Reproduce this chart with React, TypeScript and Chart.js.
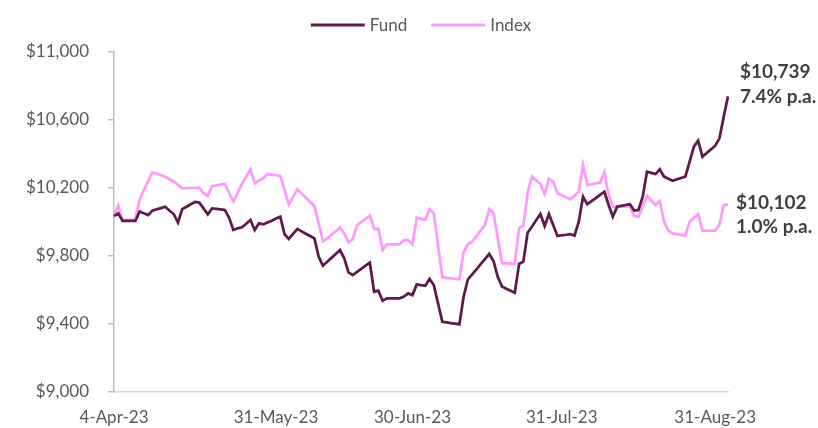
import React, { useEffect, useRef } from "react";
import { Chart, registerables } from "chart.js";

Chart.register(...registerables);

const seriesNames = ["Fund", "Index"];

const fundValues = [
  10035, 10051, 10006, 10006, 10006, 10006, 10061, 10051, 10041, 10067,
  10075, 10082, 10090, 10068, 10047, 9996, 10076, 10090, 10104, 10118,
  10114, 10080, 10045, 10080, 10077, 10074, 10071, 10025, 9953, 9963,
  9969, 9990, 10012, 9953, 9992, 9986, 9997, 10008, 10020, 10031,
  9928, 9900, 9930, 9959, 9945, 9931, 9918, 9904, 9796, 9743,
  9766, 9789, 9812, 9835, 9786, 9704, 9688, 9706, 9724, 9743,
  9761, 9590, 9596, 9537, 9551, 9551, 9551, 9551, 9561, 9580,
  9570, 9633, 9629, 9625, 9665, 9629, 9521, 9413, 9409, 9405,
  9402, 9398, 9561, 9663, 9692, 9722, 9752, 9782, 9812, 9771,
  9678, 9620, 9608, 9596, 9584, 9753, 9767, 9937, 9972, 10010,
  10047, 9976, 10047, 9982, 9918, 9922, 9925, 9929, 9920, 10002,
  10149, 10104, 10123, 10141, 10160, 10178, 10100, 10031, 10090, 10095,
  10100, 10104, 10067, 10071, 10149, 10296, 10289, 10282, 10310, 10267,
  10255, 10243, 10251, 10259, 10267, 10355, 10443, 10478, 10384, 10406,
  10427, 10449, 10492, 10620, 10739,
];

const indexValues = [
  10035, 10096, 10012, 10012, 10012, 10012, 10133, 10188, 10240, 10292,
  10284, 10275, 10267, 10252, 10237, 10218, 10198, 10199, 10200, 10201,
  10202, 10169, 10153, 10212, 10216, 10220, 10224, 10172, 10120, 10172,
  10224, 10267, 10310, 10228, 10245, 10257, 10282, 10279, 10275, 10271,
  10188, 10104, 10148, 10192, 10167, 10143, 10118, 10094, 9991, 9888,
  9904, 9925, 9946, 9967, 9933, 9880, 9900, 9982, 10000, 10019,
  10037, 9959, 9959, 9835, 9869, 9869, 9869, 9869, 9894, 9894,
  9869, 10025, 10018, 10012, 10076, 10051, 9863, 9675, 9672, 9669,
  9666, 9663, 9825, 9869, 9884, 9917, 9950, 9982, 10075, 10055,
  9906, 9757, 9756, 9755, 9753, 9963, 9978, 10169, 10267, 10245,
  10224, 10165, 10253, 10237, 10169, 10157, 10145, 10133, 10155, 10178,
  10335, 10218, 10222, 10227, 10231, 10292, 10159, 10090, 10090, 10090,
  10090, 10090, 10035, 10031, 10093, 10155, 10128, 10100, 10123, 10002,
  9949, 9933, 9929, 9924, 9920, 10002, 10025, 10047, 9949, 9949,
  9949, 9949, 9986, 10100, 10102,
];

const xTickLabels = ["4-Apr-23", "31-May-23", "30-Jun-23", "31-Jul-23", "31-Aug-23"];
const xTickIndex = [0, 38, 70, 105, 141];

const yMin = 9000;
const yMax = 11000;
const yStep = 400;

const endLabels = [
  ["$10,739", "7.4% p.a."],
  ["$10,102", "1.0% p.a."],
];

const FONT = "Lato, 'Open Sans', sans-serif";
const TEXT = "#595959";

const legendPlugin = {
  id: "customLegend",
  afterDraw(chart: any) {
    const ctx = chart.ctx;
    const { left, right } = chart.chartArea;
    ctx.save();
    ctx.font = `17px ${FONT}`;
    const lineW = 54;
    const gap = 5;
    const itemGap = 24;
    const items = chart.data.datasets.map((ds: any) => ({
      text: ds.label,
      color: ds.borderColor,
      w: lineW + gap + ctx.measureText(ds.label).width,
    }));
    const total =
      items.reduce((a: number, b: any) => a + b.w, 0) + itemGap * (items.length - 1);
    let x = (left + right) / 2 - total / 2;
    const y = 25;
    items.forEach((it: any) => {
      ctx.strokeStyle = it.color;
      ctx.lineWidth = 3;
      ctx.beginPath();
      ctx.moveTo(x, y);
      ctx.lineTo(x + lineW, y);
      ctx.stroke();
      ctx.fillStyle = TEXT;
      ctx.textAlign = "left";
      ctx.textBaseline = "middle";
      ctx.fillText(it.text, x + lineW + gap, y + 1);
      x += it.w + itemGap;
    });
    ctx.restore();
  },
};

const endLabelPlugin = {
  id: "endLabels",
  afterDatasetsDraw(chart: any) {
    const ctx = chart.ctx;
    const offsets = [
      [12, -24],
      [8, -2],
    ];
    ctx.save();
    ctx.font = `bold 19px ${FONT}`;
    ctx.fillStyle = "#404040";
    ctx.textAlign = "left";
    ctx.textBaseline = "middle";
    chart.data.datasets.forEach((_: any, i: number) => {
      const meta = chart.getDatasetMeta(i);
      const pt = meta.data[meta.data.length - 1];
      if (!pt) return;
      const [dx, dy] = offsets[i];
      endLabels[i].forEach((line, j) => {
        ctx.fillText(line, pt.x + dx, pt.y + dy + j * 24.5);
      });
    });
    ctx.restore();
  },
};

export default function App() {
  const ref = useRef<HTMLCanvasElement | null>(null);

  useEffect(() => {
    document.body.style.margin = "0";
    const canvas = ref.current;
    if (!canvas) return;
    const categories = fundValues.map((_, i) => {
      const k = xTickIndex.indexOf(i);
      return k >= 0 ? xTickLabels[k] : "";
    });
    const chart = new Chart(canvas, {
      type: "line",
      data: {
        labels: categories,
        datasets: [
          {
            label: seriesNames[0],
            data: fundValues,
            borderColor: "#5e1a4a",
            backgroundColor: "#5e1a4a",
            borderWidth: 2.75,
            pointRadius: 0,
            tension: 0,
          },
          {
            label: seriesNames[1],
            data: indexValues,
            borderColor: "#ff99ff",
            backgroundColor: "#ff99ff",
            borderWidth: 2.75,
            pointRadius: 0,
            tension: 0,
          },
        ],
      },
      options: {
        animation: false,
        responsive: false,
        devicePixelRatio: 1,
        layout: { padding: { top: 52, right: 90, left: 0, bottom: 0 } },
        plugins: {
          legend: { display: false },
          tooltip: { enabled: false },
        },
        scales: {
          x: {
            type: "category",
            offset: false,
            grid: { display: false, drawTicks: false },
            border: { display: true, color: "#d9d9d9", width: 1.5 },
            ticks: {
              autoSkip: false,
              maxRotation: 0,
              minRotation: 0,
              padding: 15,
              color: TEXT,
              font: { family: FONT, size: 17 },
            },
            afterFit: (s: any) => {
              s.height = 36;
            },
          },
          y: {
            min: yMin,
            max: yMax,
            grid: {
              display: true,
              drawOnChartArea: false,
              drawTicks: true,
              tickLength: 6,
              color: "#bfbfbf",
              lineWidth: 1.5,
            },
            border: { display: true, color: "#bfbfbf", width: 1.5 },
            ticks: {
              stepSize: yStep,
              padding: 19,
              color: TEXT,
              font: { family: FONT, size: 17 },
              callback: (v: any) => "$" + Number(v).toLocaleString("en-US"),
            },
            afterFit: (s: any) => {
              s.width = 114;
            },
          },
        },
      },
      plugins: [legendPlugin, endLabelPlugin],
    });
    return () => chart.destroy();
  }, []);

  return (
    <div style={{ width: 818, height: 428 }}>
      <canvas ref={ref} width={818} height={428} style={{ display: "block" }} />
    </div>
  );
}
